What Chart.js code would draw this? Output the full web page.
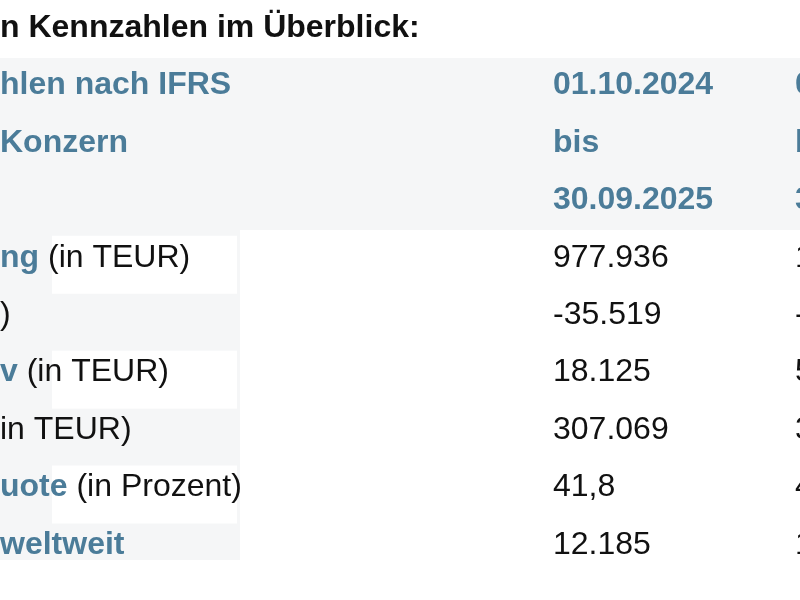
<!DOCTYPE html>
<html><head><meta charset="utf-8">
<script src="https://cdn.jsdelivr.net/npm/chart.js@4/dist/chart.umd.min.js"></script>
<style>html,body{margin:0;padding:0;background:#fff}#w{width:800px;height:600px}</style>
</head><body><div id="w"><canvas id="c"></canvas></div>
<script>
const title = "n Kennzahlen im Überblick:";
const headerLeft = ["hlen nach IFRS", "Konzern", ""];
const headerMid = ["01.10.2024", "bis", "30.09.2025"];
const headerRight = ["0", "b", "3"];
const rowBlue = ["ng", "", "v", "", "uote", "weltweit"];
const rowBlack = [" (in TEUR)", ")", " (in TEUR)", "in TEUR)", " (in Prozent)", ""];
const values2025 = ["977.936", "-35.519", "18.125", "307.069", "41,8", "12.185"];
const valuesPrev = ["1", "-", "5", "3", "4", "1"];

const BLUE = "#4b7c99", FONT = '"Liberation Sans", Arial, sans-serif';
const rowIdx = Array.from({length: 10}, (_, i) => i);

const tablePlugin = {
  id: 'table',
  beforeDraw(chart) {
    const ctx = chart.ctx, y = chart.scales.y;
    ctx.save();
    ctx.fillStyle = '#f5f6f7';
    ctx.fillRect(0, 58, 800, 172);
    ctx.fillRect(0, 230, 240, 330);
    ctx.fillStyle = '#ffffff';
    [4, 6, 8].forEach(i => {
      const p = y.getPixelForValue(i);
      ctx.fillRect(52, p - 22, 185, 58);
    });
    ctx.restore();
  },
  afterDraw(chart) {
    const ctx = chart.ctx, y = chart.scales.y;
    ctx.save();
    ctx.textBaseline = 'middle';
    ctx.fillStyle = '#111';
    ctx.font = 'bold 32px ' + FONT;
    ctx.fillText(title, 0, y.getPixelForValue(0));
    headerLeft.forEach((t, i) => {
      const p = y.getPixelForValue(i + 1);
      ctx.font = 'bold 32px ' + FONT;
      ctx.fillStyle = BLUE;
      ctx.fillText(t, 0, p);
      ctx.fillText(headerMid[i], 553, p);
      ctx.fillText(headerRight[i], 795, p);
    });
    rowBlue.forEach((t, i) => {
      const p = y.getPixelForValue(i + 4);
      ctx.font = 'bold 32px ' + FONT;
      ctx.fillStyle = BLUE;
      ctx.fillText(t, 0, p);
      const w = ctx.measureText(t).width;
      ctx.font = '32px ' + FONT;
      ctx.fillStyle = '#111';
      ctx.fillText(rowBlack[i], w, p);
      ctx.fillText(values2025[i], 553, p);
      ctx.fillText(valuesPrev[i], 795, p);
    });
    ctx.restore();
  }
};

new Chart(document.getElementById('c'), {
  type: 'scatter',
  data: { datasets: [{ data: rowIdx.map(i => ({x: 0, y: i})), pointRadius: 0 }] },
  options: {
    responsive: true, maintainAspectRatio: false, animation: false,
    layout: { padding: 0 },
    plugins: { legend: { display: false }, tooltip: { enabled: false } },
    scales: {
      x: { display: false, min: 0, max: 800 },
      y: { display: false, reverse: true, min: -0.487, max: 9.958 }
    }
  },
  plugins: [tablePlugin]
});
</script></body></html>
